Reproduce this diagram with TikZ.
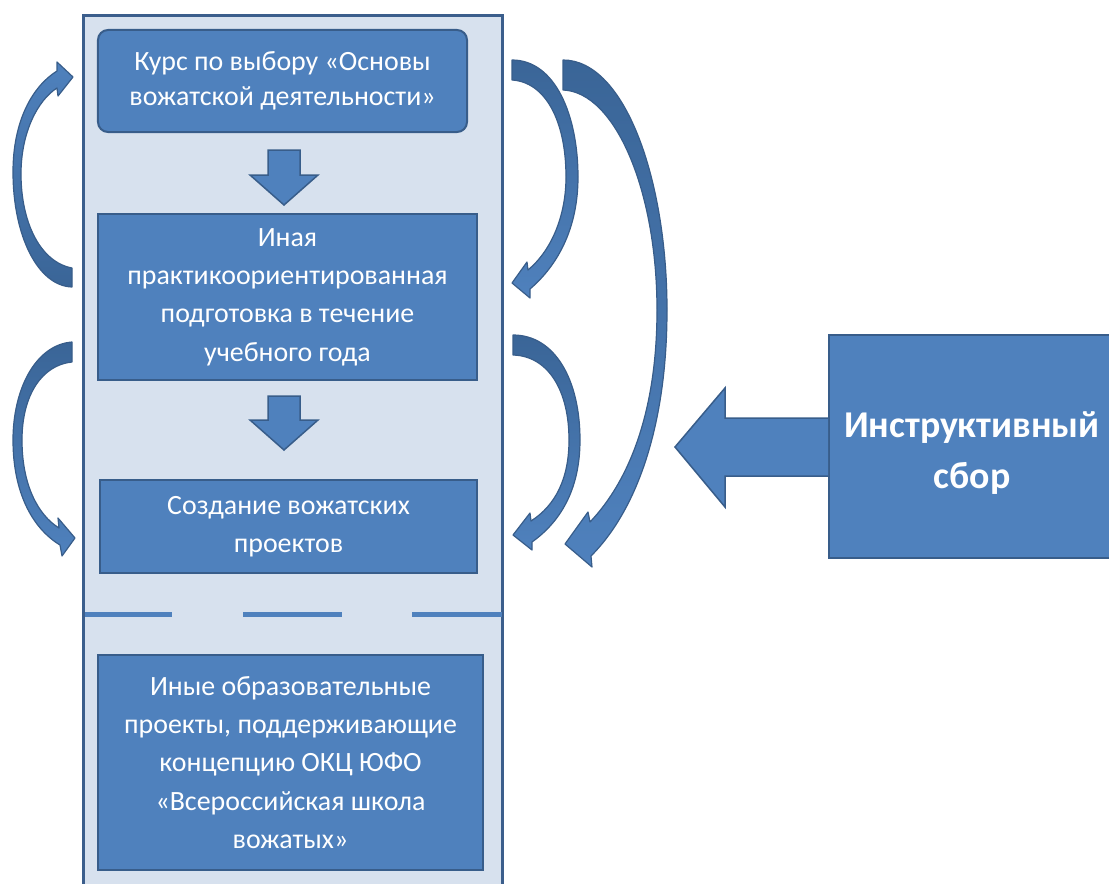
\documentclass[tikz,border=0pt]{standalone}
\usepackage{fontspec}
\setmainfont{Carlito}
\definecolor{boxfill}{HTML}{4F81BD}
\definecolor{boxdraw}{HTML}{385D8A}
\definecolor{panelfill}{HTML}{D7E1EE}
\definecolor{paneldraw}{HTML}{3B5E8C}
\definecolor{arrdark}{HTML}{3A6597}
\definecolor{arrlight}{HTML}{4F81BD}
\begin{document}
\begin{tikzpicture}[x=1bp,y=-1bp,
  blk/.style={fill=boxfill,draw=boxdraw,line width=2bp,text=white,align=center,inner sep=0pt,
     font=\fontsize{28}{38.5}\selectfont},
  blockarrow/.style={fill=boxfill,draw=boxdraw,line width=1.5bp,line join=miter},
  curvearrow/.style={draw=boxdraw,line width=1.2bp,line join=round},
  sep/.style={draw=boxfill,line width=5bp}]
\useasboundingbox (0,0) rectangle (1109,884);
% panel
\path[fill=panelfill,draw=paneldraw,line width=3bp] (83,15) -- (502,15) -- (502,900) -- (83,900) -- cycle;
% boxes
\node[blk,rounded corners=10bp,minimum width=369bp,minimum height=102bp,font=\fontsize{28}{35}\selectfont] (b1) at (282.5,81)
  {Курс по выбору «Основы\\вожатской деятельности»};
\node[blk,minimum width=379bp,minimum height=166bp] (b2) at (287.5,297)
  {Иная\\практикоориентированная\\подготовка в течение\\учебного года};
\node[blk,minimum width=377bp,minimum height=93bp] (b3) at (288.5,526.5)
  {Создание вожатских\\проектов};
\node[blk,minimum width=385bp,minimum height=215bp] (b4) at (290.5,762.5)
  {Иные образовательные\\проекты, поддерживающие\\концепцию ОКЦ ЮФО\\«Всероссийская школа\\вожатых»};
\node[blk,minimum width=300bp,minimum height=223bp,anchor=west] (ins) at (828,446.5) {};
\node[text=white,align=center,inner sep=0pt,font=\bfseries\fontsize{38}{51}\selectfont] (inslabel) at (972,453)
  {Инструктивный\\сбор};
% dashed separator
\draw[sep] (85,614) -- (172,614);
\draw[sep] (243,614) -- (342,614);
\draw[sep] (412,614) -- (502,614);
% straight down arrows
\coordinate (d1) at (284,150);
\path[blockarrow] ([xshift=-16bp]d1) -- ++(0,25) -- ++(-18,0) -- ++(34,30) -- ++(34,-30) -- ++(-18,0) -- ++(0,-25) -- cycle;
\coordinate (d2) at (284,396);
\path[blockarrow] ([xshift=-16bp]d2) -- ++(0,24) -- ++(-18,0) -- ++(34,30) -- ++(34,-30) -- ++(-18,0) -- ++(0,-24) -- cycle;
% big left arrow from Инструктивный сбор
\path[blockarrow] (ins.west |- 0,418) -- (725,418) -- (725,388) -- (675,447) -- (725,507) -- (725,476) -- (ins.west |- 0,476);
% curved arrows, left side
\path[curvearrow,top color=arrlight,bottom color=arrdark]
  (72,287) .. controls (38,286) and (13,236) .. (13,172)
  .. controls (13,120) and (33,86) .. (57,71) -- (57,62) -- (73,77) -- (58,96) -- (57,88)
  .. controls (38,100) and (21,132) .. (21,174)
  .. controls (21,222) and (40,262) .. (72,268) -- cycle;
\path[curvearrow,top color=arrdark,bottom color=arrlight]
  (72,342) .. controls (35,345) and (13,390) .. (13,440)
  .. controls (13,492) and (32,528) .. (60,545) -- (62,556) -- (75,538) -- (58,518) -- (59,528)
  .. controls (38,515) and (22,485) .. (22,440)
  .. controls (22,395) and (42,365) .. (72,362) -- cycle;
% curved arrows, right side
\path[curvearrow,top color=arrdark,bottom color=arrlight]
  (512,60) .. controls (555,60) and (578,115) .. (578,177)
  .. controls (578,228) and (558,265) .. (530,289) -- (530,298) -- (512,283) -- (527,262) -- (528,270)
  .. controls (552,250) and (566,215) .. (566,177)
  .. controls (566,120) and (545,82) .. (512,80) -- cycle;
\path[curvearrow,top color=arrdark,bottom color=arrlight]
  (513,335) .. controls (555,335) and (580,380) .. (580,440)
  .. controls (580,490) and (560,522) .. (532,542) -- (532,550) -- (513,535) -- (530,513) -- (531,521)
  .. controls (556,505) and (569,478) .. (569,440)
  .. controls (569,390) and (548,356) .. (513,355) -- cycle;
\path[curvearrow,top color=arrdark,bottom color=arrlight]
  (563,60) .. controls (625,60) and (667,180) .. (667,310)
  .. controls (667,425) and (637,510) .. (591,556) -- (592,567) -- (565,544) -- (588,512) -- (590,522)
  .. controls (630,480) and (657,410) .. (657,310)
  .. controls (657,190) and (615,92) .. (563,90) -- cycle;
\end{tikzpicture}
\end{document}
